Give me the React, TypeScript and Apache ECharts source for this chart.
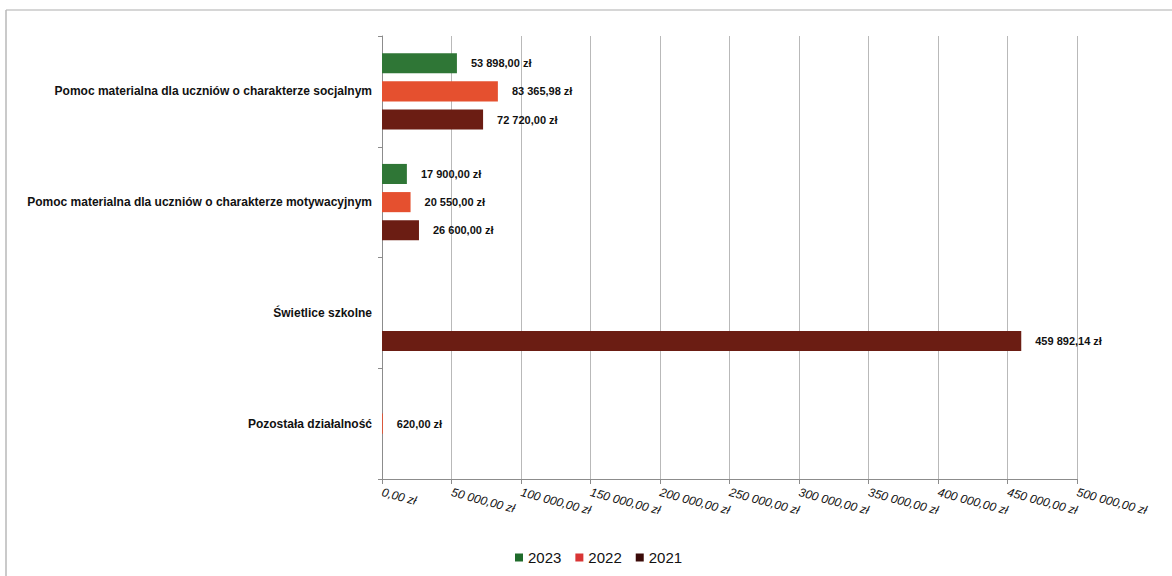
import React, { useEffect, useRef } from "react";
import * as echarts from "echarts";

const categories = [
  "Pomoc materialna dla uczniów o charakterze socjalnym",
  "Pomoc materialna dla uczniów o charakterze motywacyjnym",
  "Świetlice szkolne",
  "Pozostała działalność",
];
const seriesNames = ["2023", "2022", "2021"];
const values2023: (number | null)[] = [53898.0, 17900.0, null, null];
const values2022: (number | null)[] = [83365.98, 20550.0, null, 620.0];
const values2021: (number | null)[] = [72720.0, 26600.0, 459892.14, null];
const axisMin = 0;
const axisMax = 500000;
const axisStep = 50000;

const barColors = ["#2f7636", "#e5502f", "#6b1d13"];
const legendColors = ["#1f6b2b", "#d93535", "#3a0a08"];

function fmtPL(v: number): string {
  const s = v.toFixed(2);
  const [int, dec] = s.split(".");
  const grouped = int.replace(/\B(?=(\d{3})+(?!\d))/g, " ");
  return grouped + "," + dec + " zł";
}

const FONT = "'Liberation Sans', Arial, sans-serif";

export default function App() {
  const ref = useRef<HTMLDivElement>(null);
  useEffect(() => {
    if (!ref.current) return;
    const chart = echarts.init(ref.current, null, { renderer: "svg" });
    const allValues = [values2023, values2022, values2021];
    chart.setOption({
      animation: false,
      backgroundColor: "#ffffff",
      textStyle: { fontFamily: FONT },
      graphic: [
        {
          type: "line",
          shape: { x1: 6, y1: 10, x2: 1172, y2: 10 },
          style: { stroke: "#c8c8c8", lineWidth: 1.5 },
        },
        {
          type: "line",
          shape: { x1: 6, y1: 10, x2: 6, y2: 576 },
          style: { stroke: "#b8b8b8", lineWidth: 1.5 },
        },
      ],
      legend: {
        left: 510,
        top: 545,
        itemWidth: 8,
        itemHeight: 8,
        itemGap: 14,
        icon: "rect",
        textStyle: { fontSize: 15, color: "#111", fontFamily: FONT },
        data: seriesNames.map((n, i) => ({
          name: n,
          itemStyle: { color: legendColors[i] },
        })),
      },
      grid: { left: 382, right: 95, top: 36, bottom: 97 },
      xAxis: {
        type: "value",
        min: axisMin,
        max: axisMax,
        interval: axisStep,
        axisLine: { show: true, lineStyle: { color: "#8c8c8c" } },
        axisTick: { show: true, length: 5, lineStyle: { color: "#8c8c8c" } },
        splitLine: { show: true, lineStyle: { color: "#b9b9b9" } },
        axisLabel: {
          rotate: -15,
          margin: 13,
          fontSize: 12,
          fontStyle: "italic",
          color: "#111",
          fontFamily: FONT,
          formatter: (v: number) => fmtPL(v),
        },
      },
      yAxis: {
        type: "category",
        inverse: true,
        data: categories,
        axisLine: { show: true, lineStyle: { color: "#8c8c8c" } },
        axisTick: { show: true, length: 4, lineStyle: { color: "#8c8c8c" } },
        axisLabel: {
          margin: 10,
          fontSize: 12,
          fontWeight: "bold",
          color: "#111",
          fontFamily: FONT,
        },
      },
      series: seriesNames.map((n, i) => ({
        name: n,
        type: "bar",
        data: allValues[i],
        barGap: "40%",
        barCategoryGap: "31%",
        itemStyle: { color: barColors[i] },
        label: {
          show: true,
          position: "right",
          distance: 14,
          fontSize: 11,
          fontWeight: "bold",
          color: "#111",
          fontFamily: FONT,
          formatter: (p: any) => (p.value == null ? "" : fmtPL(p.value)),
        },
      })),
    });
    return () => chart.dispose();
  }, []);
  return (
    <div
      ref={ref}
      style={{ position: "fixed", left: 0, top: 0, width: 1172, height: 576 }}
    />
  );
}
